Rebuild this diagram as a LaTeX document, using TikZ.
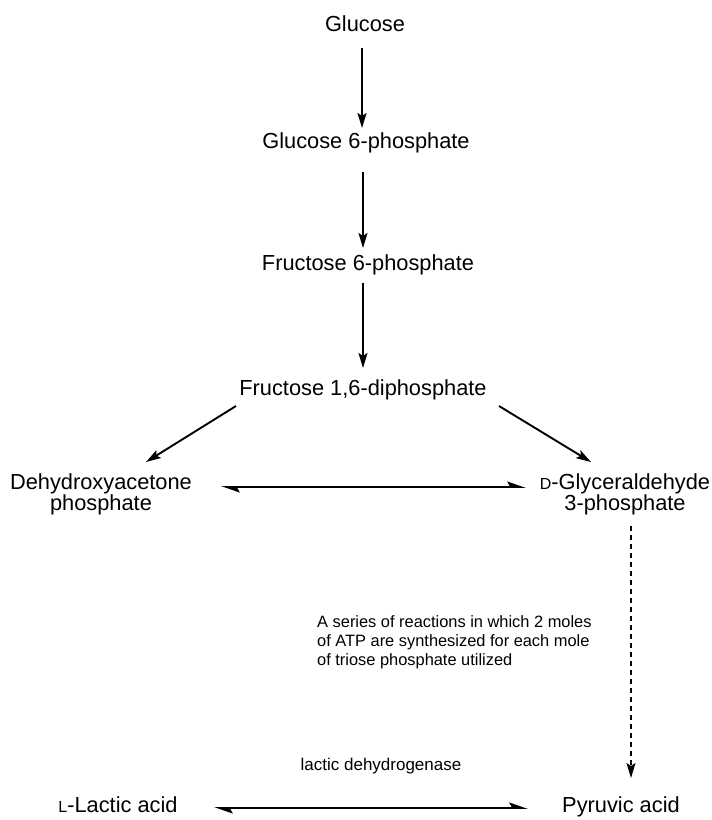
\documentclass[tikz,border=0pt]{standalone}
\usepackage{fontspec}
\setmainfont{Liberation Sans}
\usetikzlibrary{arrows.meta}
\newcommand{\fakesc}[1]{{\fontsize{16}{16}\selectfont #1}}
\begin{document}
\begin{tikzpicture}[x=1pt,y=-1pt,
  lbl/.style={inner sep=0pt, anchor=base, font=\fontsize{21.8}{21}\selectfont},
  twol/.style={inner sep=0pt, align=center, font=\fontsize{21.8}{21}\selectfont},
  small/.style={inner sep=0pt, align=left, font=\fontsize{16.4}{19}\selectfont},
  arr/.style={line width=1.9pt, -{Stealth[length=15pt,width=9pt,inset=3pt]}},
  eq/.style={line width=1.9pt, {Stealth[length=16pt,width=11pt,inset=3pt,harpoon]}-{Stealth[length=16pt,width=11pt,inset=3pt,harpoon]}}
]
\useasboundingbox (0,0) rectangle (712,820);
\fill[white] (0,0) rectangle (712,820);

\node[lbl] (glc) at (365,31) {Glucose};
\node[lbl] (g6p) at (366,148) {Glucose 6-phosphate};
\node[lbl] (f6p) at (368,270) {Fructose 6-phosphate};
\node[lbl] (fdp) at (363,395) {Fructose 1,6-diphosphate};
\node[twol] (dhap) at (101,494) {Dehydroxyacetone\\phosphate};
\node[twol] (gap) at (625,494) {\fakesc{D}-Glyceraldehyde\\3-phosphate};
\node[small, anchor=north west] (note) at (317,615) {A series of reactions in which 2 moles\\of ATP are synthesized for each mole\\of triose phosphate utilized};
\node[inner sep=0pt, anchor=base, font=\fontsize{17}{17}\selectfont] (ldh) at (381,770) {lactic dehydrogenase};
\node[lbl] (lac) at (118,812) {\fakesc{L}-Lactic acid};
\node[lbl] (pyr) at (621,812) {Pyruvic acid};

\coordinate (a1s) at (362,48);  \coordinate (a1e) at (362,128);
\coordinate (a2s) at (363,172); \coordinate (a2e) at (363,248);
\coordinate (a3s) at (363,283); \coordinate (a3e) at (363,368);
\coordinate (dls) at (236,406); \coordinate (dle) at (146,462);
\coordinate (drs) at (499,406); \coordinate (dre) at (591,462);
\coordinate (h1s) at (221,487); \coordinate (h1e) at (526,487);
\coordinate (vs) at (631,526);  \coordinate (ve) at (631,778);
\coordinate (h2s) at (214,808); \coordinate (h2e) at (528,808);

\draw[arr] (a1s) -- (a1e);
\draw[arr] (a2s) -- (a2e);
\draw[arr] (a3s) -- (a3e);
\draw[arr] (dls) -- (dle);
\draw[arr] (drs) -- (dre);
\draw[eq] (h1s) -- (h1e);
\draw[arr, line width=1.4pt, dash pattern=on 5pt off 4pt] (vs) -- (ve);
\draw[eq] (h2s) -- (h2e);
\end{tikzpicture}
\end{document}
